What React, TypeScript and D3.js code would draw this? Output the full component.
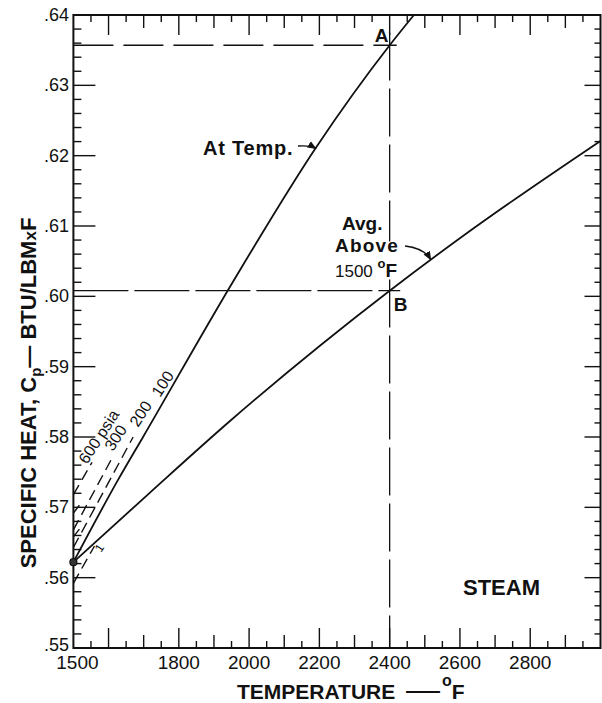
import React from "react";
import * as d3 from "d3";

const W = 602;
const H = 703;

// axis ranges
const tempRange = [1500, 3000];
const cpRange = [0.55, 0.64];

// tick labels
const xTickLabels = [1500, 1800, 2000, 2200, 2400, 2600, 2800];
const yTickLabels = [0.55, 0.56, 0.57, 0.58, 0.59, 0.6, 0.61, 0.62, 0.63, 0.64];

// Cp at temperature (100 psia curve)
const atTempT = [1500, 1627, 1697, 1958, 2191, 2400, 2469];
const atTempCp = [0.5622, 0.5739, 0.5799, 0.6024, 0.6212, 0.6357, 0.64];

// average Cp above 1500 F
const avgT = [1500, 1718, 1944, 2400, 2634, 3000];
const avgCp = [0.5622, 0.5721, 0.5822, 0.6008, 0.6095, 0.6221];

// short dashed pressure curves near 1500 F
const pressureNames = ["600 psia", "300", "200", "1"];
const pressureT = [
  [1500, 1553],
  [1500, 1611],
  [1500, 1670],
  [1500, 1560],
];
const pressureCp = [
  [0.5718, 0.5764],
  [0.5668, 0.5771],
  [0.5643, 0.58],
  [0.5592, 0.5645],
];
const hatchCp = [0.5692, 0.5658];

// read-off points A and B
const pointNames = ["A", "B"];
const pointT = [2400, 2400];
const pointCp = [0.6357, 0.6008];

const FONT = "'Liberation Sans', Arial, Helvetica, sans-serif";

export default function App() {
  const x = d3.scaleLinear().domain(tempRange).range([73.4, 600.5]);
  const y = d3.scaleLinear().domain(cpRange).range([648, 15]);

  const line = d3
    .line<[number, number]>()
    .x((d) => x(d[0]))
    .y((d) => y(d[1]))
    .curve(d3.curveMonotoneX);

  const atTempPts = atTempT.map((t, i) => [t, atTempCp[i]] as [number, number]);
  const avgPts = avgT.map((t, i) => [t, avgCp[i]] as [number, number]);

  const x0 = x(tempRange[0]);
  const x1 = x(tempRange[1]);
  const y0 = y(cpRange[0]);
  const y1 = y(cpRange[1]);

  // ticks every 50 deg, every 0.002 cp
  const tTicks = d3.range(1550, 3000, 50);
  const cpTicks = d3.range(0, 46).map((i) => 0.55 + i * 0.002);
  const tLen = (t: number) => (t % 200 === 0 ? 20 : t % 100 === 0 ? 13 : 7);

  // arrow tips on curves
  const tipAt = [x(2190), y(0.621)];
  const tipAvg = [x(2517), y(0.6052)];

  return (
    <div style={{ position: "absolute", left: 0, top: 0 }}>
      <svg width={W} height={H} style={{ display: "block", background: "#fff" }} fontFamily={FONT}>
        <defs>
          <marker id="ah" viewBox="0 0 10 10" refX="9" refY="5" markerWidth="7" markerHeight="7" orient="auto">
            <path d="M0,1 L10,5 L0,9 z" fill="#111" />
          </marker>
        </defs>

        {/* ticks */}
        <g stroke="#111" strokeWidth={1.4}>
          {tTicks.map((t) => (
            <g key={"t" + t}>
              <line x1={x(t)} x2={x(t)} y1={y0} y2={y0 - tLen(t)} />
              <line x1={x(t)} x2={x(t)} y1={y1} y2={y1 + tLen(t)} />
            </g>
          ))}
          {cpTicks.map((c, i) => (
            <g key={"c" + i}>
              <line x1={x0} x2={x0 + (i % 5 === 0 ? 22 : 8)} y1={y(c)} y2={y(c)} />
              <line x1={x1} x2={x1 - (i % 5 === 0 ? 16 : 6)} y1={y(c)} y2={y(c)} />
            </g>
          ))}
        </g>

        {/* frame */}
        <rect x={x0} y={y1} width={x1 - x0} height={y0 - y1} fill="none" stroke="#111" strokeWidth={2} />

        {/* reference dashed lines */}
        <g stroke="#111" strokeWidth={1.3} fill="none">
          <line x1={x0} x2={x(2420)} y1={y(pointCp[0])} y2={y(pointCp[0])} strokeDasharray="40 10" />
          <line x1={x0} x2={x(2430)} y1={y(pointCp[1])} y2={y(pointCp[1])} strokeDasharray="55 6" />
          <line x1={x(2400)} x2={x(2400)} y1={y(0.6375)} y2={y(0.6078)} strokeDasharray="48 8" />
          <line x1={x(2400)} x2={x(2400)} y1={y(0.6024)} y2={y0} strokeDasharray="48 8" />
        </g>

        {/* pressure curves */}
        <g stroke="#111" strokeWidth={1.4} fill="none">
          {pressureT.map((ts, i) => (
            <path
              key={"p" + i}
              d={line(ts.map((t, j) => [t, pressureCp[i][j]] as [number, number])) || ""}
              strokeDasharray="11 6"
            />
          ))}
          {hatchCp.map((c, i) => (
            <line key={"h" + i} x1={x(1500)} y1={y(c)} x2={x(1517)} y2={y(c + 0.0011)} />
          ))}
        </g>

        {/* main curves */}
        <g stroke="#111" strokeWidth={1.8} fill="none">
          <path d={line(atTempPts) || ""} />
          <path d={line(avgPts) || ""} />
        </g>
        <circle cx={x(1500)} cy={y(0.5622)} r={3.5} fill="#333" stroke="#111" strokeWidth={1.2} />

        {/* pressure labels */}
        <g fontSize={16} fill="#111">
          <text transform={`translate(87,465) rotate(-57)`}>{pressureNames[0]}</text>
          <text transform={`translate(113,452) rotate(-57)`}>{pressureNames[1]}</text>
          <text transform={`translate(138,428) rotate(-57)`}>{pressureNames[2]}</text>
          <text transform={`translate(160,398) rotate(-57)`}>100</text>
          <text transform={`translate(101,553) rotate(-57)`} fontSize={12}>{pressureNames[3]}</text>
        </g>

        {/* point labels */}
        <g fontSize={19} fontWeight="bold" fill="#111">
          <text x={x(pointT[0]) - 15} y={y(pointCp[0]) - 3}>{pointNames[0]}</text>
          <text x={x(pointT[1]) + 4} y={y(pointCp[1]) + 20}>{pointNames[1]}</text>
        </g>

        {/* curve annotations */}
        <g fill="#111" fontWeight="bold">
          <text x={203} y={155} fontSize={20} letterSpacing={0.8}>At Temp.</text>
          <text x={342} y={230} fontSize={19}>Avg.</text>
          <text x={335} y={252} fontSize={19} letterSpacing={1.2}>Above</text>
          <text x={335} y={277} fontSize={17}>
            <tspan fontWeight="normal">1500 </tspan>
            <tspan fontSize={13} dy={-9}>o</tspan>
            <tspan fontSize={19} dy={9}>F</tspan>
          </text>
          <text x={463} y={595} fontSize={22}>STEAM</text>
        </g>
        <g stroke="#111" strokeWidth={1.3} fill="none">
          <path d={`M298,146 Q310,145 ${tipAt[0]},${tipAt[1]}`} markerEnd="url(#ah)" />
          <path d={`M405,246 Q424,248 ${tipAvg[0]},${tipAvg[1]}`} markerEnd="url(#ah)" />
        </g>

        {/* y tick labels */}
        <g fontSize={18} fill="#111" textAnchor="end">
          {yTickLabels.map((v, i) => (
            <text key={v} x={69} y={y(v) + (i === 0 ? 3 : 6)}>
              {"." + Math.round(v * 100)}
            </text>
          ))}
        </g>
        {/* x tick labels */}
        <g fontSize={19} fill="#111" textAnchor="middle">
          {xTickLabels.map((v) => (
            <text key={v} x={v === 1500 ? x(v) + 4 : x(v)} y={669}>
              {v}
            </text>
          ))}
        </g>

        {/* axis titles */}
        <g fill="#111" fontWeight="bold">
          <text x={237} y={699} fontSize={21}>
            TEMPERATURE
          </text>
          <text x={406} y={697} fontSize={21} textLength={34} lengthAdjust="spacingAndGlyphs">—</text>
          <text x={442} y={699} fontSize={21}>
            <tspan fontSize={16} dy={-13}>o</tspan>
            <tspan dy={13}>F</tspan>
          </text>
          <text transform="translate(36,393) rotate(-90)" fontSize={22} textAnchor="middle">
            SPECIFIC HEAT, C<tspan fontSize={15} dy={5}>p</tspan>
            <tspan dy={-5}>— BTU/LBM</tspan>
            <tspan fontSize={17}>x</tspan>F
          </text>
        </g>
      </svg>
    </div>
  );
}
